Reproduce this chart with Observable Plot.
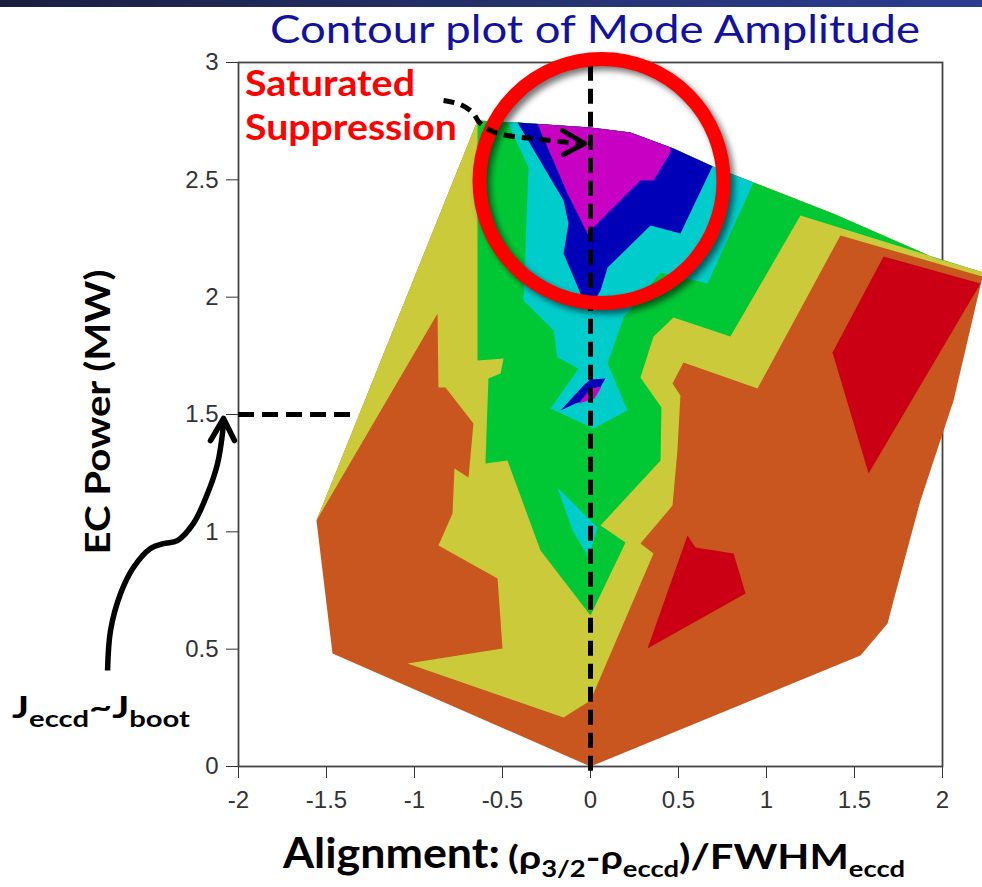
<!DOCTYPE html>
<html><head><meta charset="utf-8">
<script src="https://cdn.jsdelivr.net/npm/d3@7"></script>
<script src="https://cdn.jsdelivr.net/npm/@observablehq/plot@0.6"></script>
<style>
html,body{margin:0;padding:0;background:#fff;}
#wrap{position:relative;width:982px;height:887px;overflow:hidden;}
#bar{position:absolute;left:0;top:0;width:982px;height:7px;background:linear-gradient(90deg,#1a1f3f,#26326f 55%,#2c3d92);}
#chart{position:absolute;left:0;top:0;}
#ann{position:absolute;left:0;top:0;pointer-events:none;}
</style></head><body>
<div id="wrap"><div id="chart"></div><svg id="ann" width="982" height="887"></svg><div id="bar"></div></div>
<script>
// ---- ticks ----
const xTicks = [-2, -1.5, -1, -0.5, 0, 0.5, 1, 1.5, 2];
const yTicks = [0, 0.5, 1, 1.5, 2, 2.5, 3];

// ---- contour level regions (x = alignment, y = EC power MW) ----
const hullOrange = [[-0.642,2.753],[-0.415,2.744],[0,2.723],[0.227,2.702],[0.472,2.633],[0.722,2.548],[1.381,2.356],[1.949,2.169],[2.233,2.105],[2.063,1.560],[1.875,1.134],[1.722,0.707],[1.688,0.609],[1.534,0.473],[0,0],[-1.466,0.482],[-1.557,1.048]];
const redHigh1 = [[1.665,2.173],[2.216,2.058],[1.580,1.249],[1.375,1.764]];
const redHigh2 = [[0.551,0.984],[0.597,0.933],[0.813,0.908],[0.881,0.737],[0.324,0.503]];
const yellowLevel = [[-1.557,1.048],[-0.642,2.753],[-0.415,2.744],[0,2.723],[0.227,2.702],[0.472,2.633],[0.722,2.548],[1.381,2.356],[1.949,2.169],[2.233,2.105],[2.227,2.088],[1.420,2.263],[0.949,1.611],[0.528,1.722],[0.466,1.632],[0.511,1.581],[0.494,1.347],[0.466,1.112],[0.284,0.950],[0.358,0.908],[0,0.281],[-0.153,0.209],[-1.040,0.439],[-0.500,0.503],[-0.528,0.801],[-0.864,0.942],[-0.784,1.078],[-0.773,1.270],[-0.693,1.232],[-0.665,1.462],[-0.824,1.615],[-0.864,1.615],[-0.869,1.930]];
const greenLevel = [[-0.642,2.753],[-0.415,2.744],[0,2.723],[0.227,2.702],[0.472,2.633],[0.722,2.548],[1.381,2.356],[1.949,2.169],[2.22,2.108],[1.193,2.348],[0.795,1.832],[0.472,1.913],[0.358,1.832],[0.284,1.658],[0.403,1.530],[0.398,1.304],[0.057,1.027],[0.199,0.955],[0,0.643],[-0.284,0.920],[-0.472,1.304],[-0.597,1.291],[-0.580,1.653],[-0.511,1.675],[-0.494,1.739],[-0.642,1.730]];
const cyanLevel1 = [[-0.472,2.746],[0,2.723],[0.227,2.702],[0.472,2.633],[0.722,2.548],[0.926,2.489],[0.665,2.058],[0.398,2.105],[0.284,1.999],[0.188,1.913],[0.097,1.717],[0.210,1.517],[0.017,1.440],[-0.227,1.526],[-0.068,1.696],[-0.188,1.743],[-0.210,1.858],[-0.381,1.986],[-0.352,2.553]];
const cyanLevel2 = [[-0.188,1.189],[0.040,1.018],[-0.011,0.891],[-0.102,1.006]];
const blueLevel1 = [[-0.415,2.744],[0,2.723],[0.227,2.702],[0.472,2.633],[0.693,2.558],[0.511,2.271],[0.341,2.305],[0.097,2.126],[0.057,2.028],[0.011,1.973],[-0.057,2.016],[-0.153,2.186],[-0.125,2.314],[-0.153,2.412]];
const blueLevel2 = [[-0.170,1.517],[-0.040,1.624],[0,1.649],[0.085,1.653],[0.045,1.602],[0,1.568],[-0.085,1.547]];
const magentaLevel1 = [[-0.301,2.738],[0,2.723],[0.227,2.702],[0.455,2.638],[0.455,2.616],[0.358,2.497],[0.284,2.497],[0.017,2.297],[-0.017,2.271],[-0.131,2.442]];
const magentaLevel2 = [[-0.068,1.547],[0,1.611],[0.063,1.619],[0.023,1.568]];

// ---- annotations (data units) ----
const ringCenter = [{x: 0.0625, y: 2.495}];
const guideV = [{x: 0, y1: -0.02, y2: 3}];
const guideH = [{y: 1.5, x1: -2, x2: -1.318}];
const jArrowPath = [[-2.744,0.409],[-2.727,0.580],[-2.670,0.737],[-2.597,0.848],[-2.500,0.929],[-2.426,0.950],[-2.347,0.963],[-2.256,1.036],[-2.176,1.163],[-2.119,1.291],[-2.091,1.419],[-2.085,1.474]];
const jArrowHead = [[-2.159,1.389],[-2.085,1.483],[-2.023,1.389]];
const satArrowPath = [[-0.835,2.838],[-0.739,2.821],[-0.670,2.787],[-0.631,2.744],[-0.568,2.710],[-0.472,2.689],[-0.284,2.672],[-0.068,2.655]];
const satArrowHead = [[-0.159,2.710],[-0.034,2.655],[-0.153,2.608]];

const C = {orange:"#C8561E", red:"#CC0014", yellow:"#CBCA3A", green:"#00C835", cyan:"#00CCCC", blue:"#0000B8", magenta:"#C800C4"};
const pts = (arr, id) => arr.map(([x, y]) => ({x, y, id}));
const fillPoly = (rows, color) => Plot.line(rows, {x: "x", y: "y", z: "id", fill: color, stroke: "none"});

const svg = Plot.plot({
  width: 982, height: 887,
  marginLeft: 238, marginRight: 40, marginTop: 62, marginBottom: 121,
  style: {fontSize: "24px", fontFamily: "'Liberation Sans', Arial, sans-serif", color: "#333", background: "transparent", overflow: "visible"},
  x: {domain: [-2, 2], ticks: xTicks, tickFormat: d => String(d), tickSize: 12, tickPadding: 12, label: null},
  y: {domain: [0, 3], ticks: yTicks, tickFormat: d => String(d), tickSize: 12, tickPadding: 8, label: null},
  marks: [
    Plot.frame({stroke: "#444", strokeWidth: 1.8}),
    fillPoly(pts(hullOrange, "h"), C.orange),
    fillPoly([...pts(redHigh1, "r1"), ...pts(redHigh2, "r2")], C.red),
    fillPoly(pts(yellowLevel, "y"), C.yellow),
    fillPoly(pts(greenLevel, "g"), C.green),
    fillPoly([...pts(cyanLevel1, "c1"), ...pts(cyanLevel2, "c2")], C.cyan),
    fillPoly([...pts(blueLevel1, "b1"), ...pts(blueLevel2, "b2")], C.blue),
    fillPoly([...pts(magentaLevel1, "m1"), ...pts(magentaLevel2, "m2")], C.magenta),
    Plot.dot(ringCenter, {x: "x", y: "y", r: 122, fill: "none", stroke: "#000", strokeOpacity: 0.55, strokeWidth: 14, dx: 4, dy: 4, ariaDescription: "ringshadow"}),
    Plot.ruleX(guideV, {x: "x", y1: "y1", y2: "y2", stroke: "#000", strokeWidth: 5, strokeDasharray: "15,8"}),
    Plot.ruleY(guideH, {y: "y", x1: "x1", x2: "x2", stroke: "#000", strokeWidth: 5, strokeDasharray: "16,8"}),
    Plot.dot(ringCenter, {x: "x", y: "y", r: 122, fill: "none", stroke: "#FF0000", strokeWidth: 14}),
    Plot.line(pts(jArrowPath, "a"), {x: "x", y: "y", curve: "catmull-rom", stroke: "#000", strokeWidth: 5.5, strokeLinecap: "butt"}),
    Plot.line(pts(jArrowHead, "ah"), {x: "x", y: "y", stroke: "#000", strokeWidth: 5.5}),
    Plot.line(pts(satArrowPath, "s"), {x: "x", y: "y", curve: "catmull-rom", stroke: "#000", strokeWidth: 5, strokeDasharray: "11,7", strokeLinecap: "butt"}),
    Plot.line(pts(satArrowHead, "sh"), {x: "x", y: "y", stroke: "#000", strokeWidth: 5})
  ]
});
document.getElementById("chart").appendChild(svg);

// blur filter for the ring's shadow
const ds = d3.select(svg);
const f = ds.insert("defs", ":first-child").append("filter").attr("id", "ringblur").attr("x", "-20%").attr("y", "-20%").attr("width", "140%").attr("height", "140%");
f.append("feGaussianBlur").attr("stdDeviation", 3);
ds.selectAll('[aria-description="ringshadow"]').attr("filter", "url(#ringblur)");

// ---- text annotations ----
const ann = d3.select("#ann");
const font = "Lato, 'Open Sans', 'DejaVu Sans', sans-serif";
ann.append("text").attr("x", 595).attr("y", 43).attr("text-anchor", "middle")
  .attr("font-family", font).attr("font-size", 38).attr("fill", "#1212a0")
  .attr("textLength", 650).attr("lengthAdjust", "spacingAndGlyphs")
  .text("Contour plot of Mode Amplitude");
ann.append("text").attr("x", 245).attr("y", 96).attr("font-family", font).attr("font-weight", 700)
  .attr("font-size", 36).attr("fill", "#FF0000").attr("textLength", 170).attr("lengthAdjust", "spacingAndGlyphs").text("Saturated");
ann.append("text").attr("x", 245).attr("y", 140).attr("font-family", font).attr("font-weight", 700)
  .attr("font-size", 36).attr("fill", "#FF0000").attr("textLength", 212).attr("lengthAdjust", "spacingAndGlyphs").text("Suppression");
ann.append("text").attr("transform", "translate(110,412) rotate(-90)").attr("text-anchor", "middle")
  .attr("font-family", font).attr("font-weight", 700).attr("font-size", 34).attr("fill", "#000")
  .attr("textLength", 285).attr("lengthAdjust", "spacingAndGlyphs").text("EC Power (MW)");

function rich(x, y, len, parts) {
  const t = ann.append("text").attr("x", x).attr("y", y).attr("font-family", font).attr("font-weight", 700)
    .attr("fill", "#000").attr("textLength", len).attr("lengthAdjust", "spacingAndGlyphs");
  parts.forEach(([s, size, dy]) => t.append("tspan").attr("font-size", size).attr("dy", dy).text(s));
}
rich(12, 718, 178, [["J", 30, 0], ["eccd", 22, 9], ["~", 30, -9], ["J", 30, 0], ["boot", 22, 9]]);
rich(283, 868, 217, [["Alignment:", 42, 0]]);
rich(508, 869, 397, [["(ρ", 33, 0], ["3/2", 23, 8], ["-ρ", 33, -8], ["eccd", 23, 8], [")/FWHM", 35, -8], ["eccd", 23, 8]]);
</script>
</body></html>
